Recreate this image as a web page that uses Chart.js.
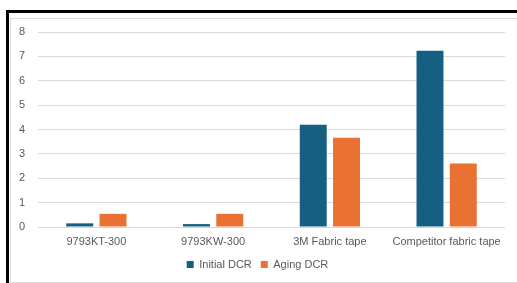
<!DOCTYPE html>
<html>
<head>
<meta charset="utf-8">
<script src="https://cdn.jsdelivr.net/npm/chart.js@4.4.1/dist/chart.umd.min.js"></script>
<style>
  html, body { margin: 0; padding: 0; background: #fff; }
  #wrap { position: relative; width: 517px; height: 283px; overflow: hidden; }
  .frame {
    position: absolute; left: 6px; top: 10px; width: 600px; height: 400px;
    border-top: 3px solid #000; border-left: 3px solid #000;
  }
  .inner {
    position: absolute; left: 10px; top: 18px; width: 600px; height: 263px;
    border: 1px solid #d9d9d9;
  }
  #chart { position: absolute; left: 0; top: 0; }
</style>
</head>
<body>
<div id="wrap">
  <div class="frame"></div>
  <div class="inner"></div>
  <canvas id="chart" width="517" height="283"></canvas>
</div>
<script>
// chart data
const categories = ["9793KT-300", "9793KW-300", "3M Fabric tape", "Competitor fabric tape"];
const initialDCR = [0.15, 0.12, 4.19, 7.23];
const agingDCR = [0.54, 0.54, 3.66, 2.61];
const seriesNames = ["Initial DCR", "Aging DCR"];
const yMax = 8;
const yStep = 1;

const textColor = "#595959";
const fontFamily = "'Liberation Sans', Arial, sans-serif";

const ctx = document.getElementById("chart").getContext("2d");
new Chart(ctx, {
  type: "bar",
  data: {
    labels: categories,
    datasets: [
      {
        label: seriesNames[0],
        data: initialDCR,
        backgroundColor: "#156082",
      },
      {
        label: seriesNames[1],
        data: agingDCR,
        backgroundColor: "#E97132",
      },
    ],
  },
  options: {
    responsive: false,
    animation: false,
    datasets: {
      bar: { categoryPercentage: 0.57, barPercentage: 0.81 },
    },
    layout: { padding: { left: 10, right: 12, top: 32, bottom: 3 } },
    plugins: {
      tooltip: { enabled: false },
      legend: {
        position: "bottom",
        labels: {
          boxWidth: 7,
          boxHeight: 7,
          padding: 9,
          color: textColor,
          font: { family: fontFamily, size: 11 },
        },
      },
    },
    scales: {
      x: {
        afterFit: (scale) => { scale.height = 23; },
        grid: { display: false, drawTicks: false },
        border: { display: false },
        ticks: {
          color: textColor,
          padding: 8,
          maxRotation: 0,
          font: { family: fontFamily, size: 11 },
        },
      },
      y: {
        min: 0,
        max: yMax,
        afterFit: (scale) => { scale.width = 28; },
        grid: { color: "#d9d9d9", lineWidth: 1, drawTicks: false },
        border: { display: false },
        ticks: {
          stepSize: yStep,
          color: textColor,
          padding: 13,
          font: { family: fontFamily, size: 11 },
        },
      },
    },
  },
});
</script>
</body>
</html>
